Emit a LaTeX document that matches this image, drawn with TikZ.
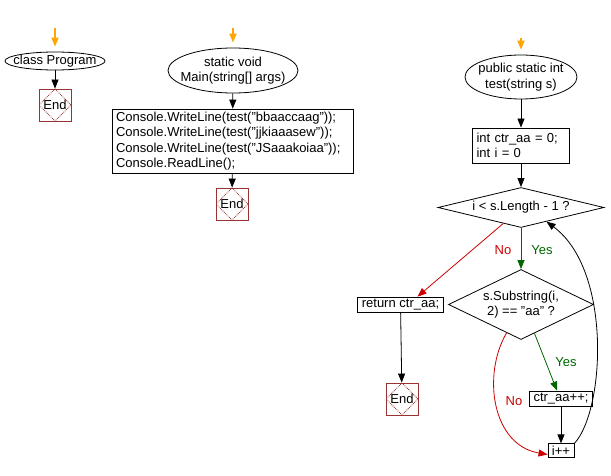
\documentclass[tikz,border=0pt]{standalone}
\usepackage{fontspec}
\setmainfont{Liberation Sans}
\usetikzlibrary{shapes.geometric, arrows.meta, positioning}

\definecolor{startor}{HTML}{FFA500}
\definecolor{endred}{HTML}{993333}
\definecolor{nored}{HTML}{CC0000}
\definecolor{yesgreen}{HTML}{006600}

\tikzset{
    every node/.style={font=\fontsize{13}{15.5}\selectfont},
    flow/.style={-{Triangle[length=9pt,width=7pt]}, line width=0.8pt},
    startflow/.style={flow, color=startor, line width=1.6pt, shorten >=5pt},
    noflow/.style={flow, color=nored},
    yesflow/.style={flow, color=yesgreen},
    termnode/.style={ellipse, draw, line width=0.8pt, inner xsep=-20pt, inner ysep=-10pt, align=center},
    stepbox/.style={rectangle, draw, line width=0.8pt, inner xsep=4pt, inner ysep=2pt, align=left},
    decide/.style={diamond, draw, line width=0.8pt, inner sep=0pt, align=center},
    endbox/.style={rectangle, draw=endred, line width=0.8pt, minimum size=32pt, inner sep=0pt,
        path picture={\draw[endred, densely dotted] (path picture bounding box.north) -- (path picture bounding box.east)
            -- (path picture bounding box.south) -- (path picture bounding box.west) -- cycle;}},
    nolabel/.style={text=nored},
    yeslabel/.style={text=yesgreen}
}

\begin{document}
\begin{tikzpicture}[x=1pt, y=-1pt]
    \useasboundingbox (0,0) rectangle (611,476);

    \coordinate (in1) at (55,28);
    \node[termnode, minimum width=100pt, minimum height=18pt] (prog) at (55,61) {class Program};
    \node[endbox] (end1) at (55,105) {End};

    \coordinate (in2) at (233,28);
    \node[termnode, minimum width=130pt, minimum height=45pt] (mainfn) at (233,70.5) {static void\\Main(string[] args)};
    \node[stepbox, text width=233pt, minimum height=64pt] (calls) at (232.5,141) {
        Console.WriteLine(test("bbaaccaag"));\\
        Console.WriteLine(test("jjkiaaasew"));\\
        Console.WriteLine(test("JSaaakoiaa"));\\
        Console.ReadLine();};
    \node[endbox] (end2) at (232,204) {End};

    \coordinate (in3) at (521,38);
    \node[termnode, minimum width=112pt, minimum height=44pt] (testfn) at (521,77) {public static int\\test(string s)};
    \node[stepbox, text width=89pt, minimum height=35pt] (init) at (521,145.5) {int ctr\_aa = 0;\\int i = 0};
    \node[decide, aspect=4.15, minimum width=166pt, minimum height=40pt] (loop) at (521,207.5) {i < s.Length - 1 ?};
    \node[decide, aspect=2.07, minimum width=145pt, minimum height=70pt] (match) at (521,304.5) {s.Substring(i,\\2) == "aa" ?};
    \node[stepbox] (ret) at (400.5,304.5) {return ctr\_aa;};
    \node[endbox] (end3) at (402,399) {End};
    \node[stepbox] (incr) at (561,398.5) {ctr\_aa++;};
    \node[stepbox] (next) at (561,450.5) {i++};

    \node[nolabel] (no1) at (503,250) {No};
    \node[yeslabel] (yes1) at (542,250) {Yes};
    \node[yeslabel] (yes2) at (566,362) {Yes};
    \node[nolabel] (no2) at (514,401) {No};

    \draw[startflow] (in1) -- (prog);
    \draw[flow] (prog) -- (end1);
    \draw[startflow] (in2) -- (mainfn);
    \draw[flow] (mainfn) -- (calls);
    \draw[flow] (calls) -- (end2);
    \draw[startflow] (in3) -- (testfn);
    \draw[flow] (testfn) -- (init);
    \draw[flow] (init) -- (loop);
    \draw[noflow] (loop.222) -- ([xshift=17pt]ret.north);
    \draw[yesflow] (loop) -- (match);
    \draw[flow] (ret) -- (end3);
    \draw[yesflow] (match.295) -- ([xshift=-4pt]incr.north);
    \draw[noflow] (match.243) .. controls (482,375) and (492,445) .. ([yshift=-4pt]next.west);
    \draw[flow] (incr) -- (next);
    \draw[flow] (next.north east) .. controls (605,410) and (612,270) .. (loop.331);
\end{tikzpicture}
\end{document}
